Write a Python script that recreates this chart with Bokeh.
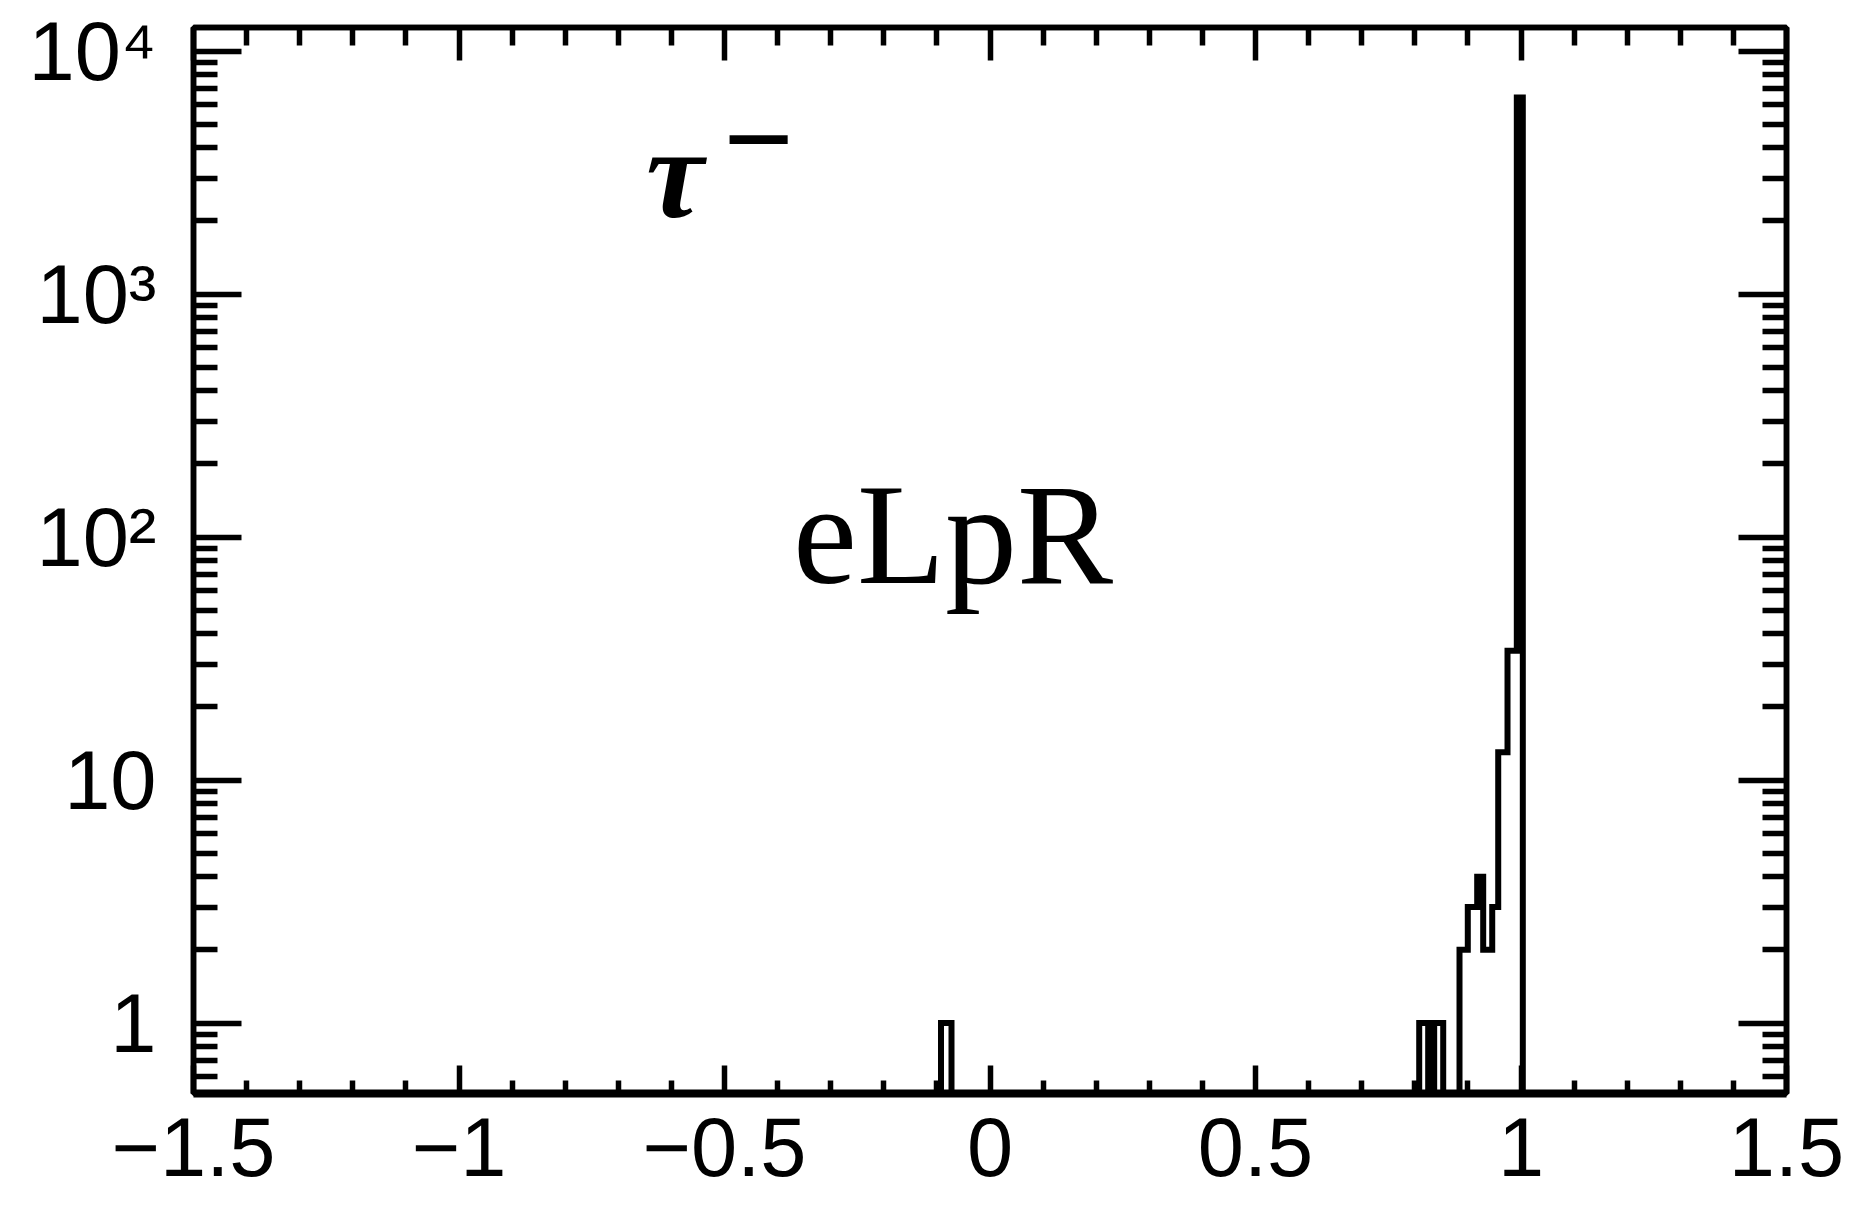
from bokeh.plotting import figure
from bokeh.models import Range1d, LogAxis, LinearAxis, FixedTicker, Label
from bokeh.embed import file_html
from bokeh.resources import INLINE

# ---------------- data ----------------
# histogram bins: lower edge, upper edge, entries (as drawn in the reference)
bin_lo = [-0.0923, 0.8083, 0.8252, 0.8365, 0.8535, 0.8691, 0.8842,
          0.8998, 0.9175, 0.9288, 0.9458, 0.9571, 0.9746, 0.9921]
bin_hi = [-0.0725, 0.8252, 0.8365, 0.8535, 0.8691, 0.8842, 0.8998,
          0.9175, 0.9288, 0.9458, 0.9571, 0.9746, 0.9921, 1.0034]
bin_count = [1, 1, 0, 1, 0, 0, 2, 3, 4, 2, 3, 13, 34, 6440]

x_major = [-1.5, -1.0, -0.5, 0.0, 0.5, 1.0, 1.5]
x_tick_labels = ["\u22121.5", "\u22121", "\u22120.5", "0", "0.5", "1", "1.5"]
y_major = [1, 10, 100, 1000, 10000]
y_tick_labels = ["1", "10", "10\u00b2", "10\u00b3", "10\u2074"]

x_lo, x_hi = -1.5, 1.5
y_lo, y_hi = 0.5127, 12500.0

label_beam = "eLpR"
label_particle = "\u03c4"
label_charge = "\u2212"

# ---------------- ticks ----------------
x_minor = [round(-1.5 + 0.1 * i, 2) for i in range(31)]
x_minor = [v for v in x_minor if all(abs(v - m) > 1e-6 for m in x_major)]
y_minor = [m * 10 ** e for e in range(-1, 4) for m in range(2, 10)]
y_minor = [v for v in y_minor if y_lo < v < y_hi]

p = figure(width=1849, height=1210, output_backend="svg", toolbar_location=None,
           x_range=Range1d(x_lo, x_hi), y_range=Range1d(y_lo, y_hi),
           y_axis_type="log", min_border_left=193, min_border_right=63,
           min_border_top=27, min_border_bottom=117)
p.background_fill_color = "white"
p.border_fill_color = "white"
p.grid.visible = False
p.outline_line_color = "black"
p.outline_line_width = 5.5

# ---------------- histogram outline (ROOT style step line) ----------------
base = 0.3  # empty bins fall below the frame (log scale)
groups = []
cur = None
for lo, hi, c in sorted(zip(bin_lo, bin_hi, bin_count)):
    if cur is None or abs(lo - cur[-1][1]) > 1e-4:
        cur = []
        groups.append(cur)
    cur.append((lo, hi, c))
xs, ys = [], []
for g in groups:
    gx = [g[0][0]]
    gy = [base]
    for lo, hi, c in g:
        v = c if c > 0 else base
        gx += [lo, hi]
        gy += [v, v]
    gx.append(g[-1][1])
    gy.append(base)
    xs.append(gx)
    ys.append(gy)
p.multi_line(xs, ys, line_color="black", line_width=6, line_join="miter")

# ---------------- axes (ROOT style, ticks inside, mirrored) ----------------
tick_font = "Liberation Sans"

def style(ax, major_in, minor_in, lw, ticks, minors, labels=None, standoff=0):
    ax.ticker = FixedTicker(ticks=ticks, minor_ticks=minors)
    ax.major_tick_in = major_in
    ax.major_tick_out = 0
    ax.minor_tick_in = minor_in
    ax.minor_tick_out = 0
    ax.major_tick_line_width = 5.5
    ax.minor_tick_line_width = 5.5
    ax.major_tick_line_color = "black"
    ax.minor_tick_line_color = "black"
    ax.axis_line_width = lw
    ax.axis_line_color = "black"
    if labels is None:
        ax.major_label_text_font_size = "1px"
        ax.major_label_text_color = None
        ax.major_label_standoff = 0
    else:
        ax.major_label_overrides = {t: s for t, s in zip(ticks, labels)}
        ax.major_label_text_font = tick_font
        ax.major_label_text_font_size = "83px"
        ax.major_label_text_color = "black"
        ax.major_label_standoff = standoff

style(p.xaxis[0], 28, 13, 8, x_major, x_minor, x_tick_labels, 24)
style(p.yaxis[0], 48, 24, 5.5, y_major, y_minor, y_tick_labels, 37)
top_ax = LinearAxis()
style(top_ax, 33, 18, 5.5, x_major, x_minor)
p.add_layout(top_ax, "above")
right_ax = LogAxis()
style(right_ax, 48, 24, 5.5, y_major, y_minor)
p.add_layout(right_ax, "right")

# ---------------- in-plot texts ----------------
serif = "Liberation Serif"
p.add_layout(Label(x=-0.0697, y=62.7, y_offset=52, text=label_beam, text_align="center",
                   text_baseline="alphabetic", text_font=serif,
                   text_font_size="144px", text_color="black"))
p.add_layout(Label(x=-0.6478, y=2149, y_offset=40, text=label_particle, text_align="left",
                   text_baseline="alphabetic", text_font=serif,
                   text_font_style="bold italic",
                   text_font_size="130px", text_color="black"))
p.add_layout(Label(x=-0.5034, y=3231, y_offset=30, text=label_charge, text_align="left",
                   text_baseline="alphabetic", text_font=serif,
                   text_font_style="bold",
                   text_font_size="125px", text_color="black"))

open("out.html", "w").write(file_html(p, INLINE))
